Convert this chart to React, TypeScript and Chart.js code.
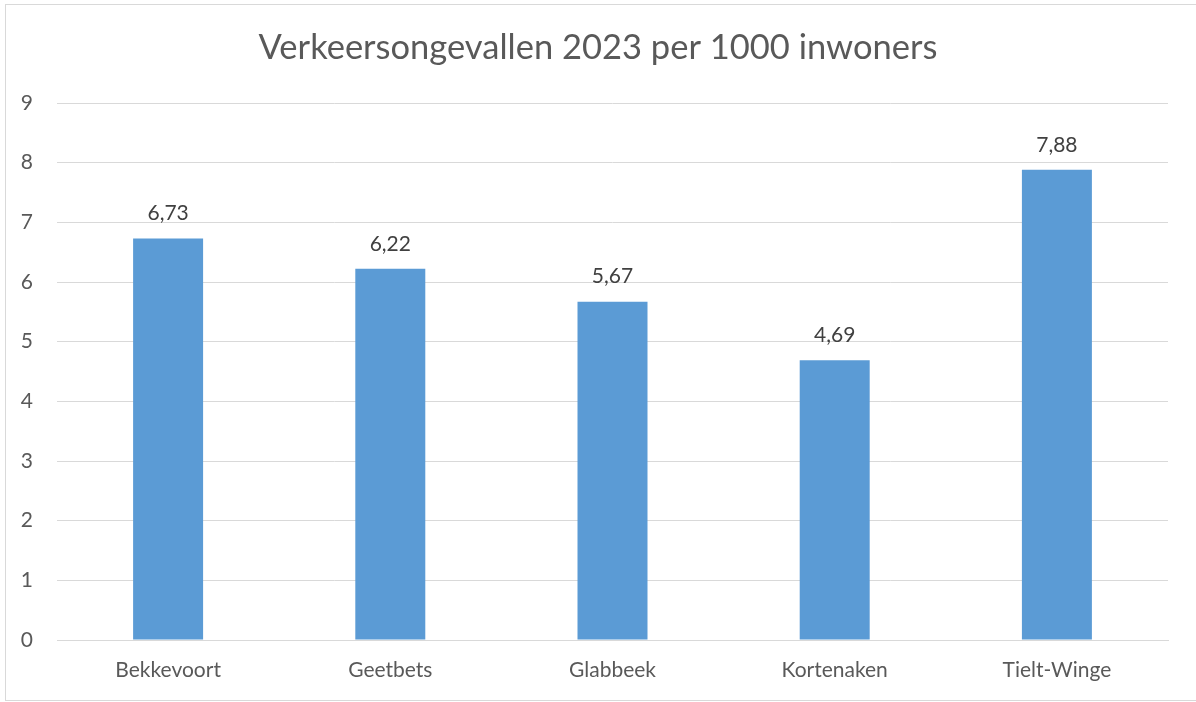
import React, { useEffect, useRef } from "react";
import { Chart, registerables } from "chart.js";

Chart.register(...registerables);

const categories = ["Bekkevoort", "Geetbets", "Glabbeek", "Kortenaken", "Tielt-Winge"];
const values = [6.73, 6.22, 5.67, 4.69, 7.88];
const titleText = "Verkeersongevallen 2023 per 1000 inwoners";
const yMin = 0;
const yMax = 9;
const yStep = 1;

const FONT = "Lato, 'Open Sans', sans-serif";
const TITLE_SIZE = 34.5;

const dataLabels = {
  id: "dataLabels",
  afterDatasetsDraw(chart: any) {
    const ctx = chart.ctx;
    const meta = chart.getDatasetMeta(0);
    ctx.save();
    ctx.font = `21px ${FONT}`;
    ctx.fillStyle = "#404040";
    ctx.textAlign = "center";
    ctx.textBaseline = "middle";
    meta.data.forEach((bar: any, i: number) => {
      const v = chart.data.datasets[0].data[i] as number;
      ctx.fillText(v.toFixed(2).replace(".", ","), bar.x, bar.y - 25);
    });
    ctx.restore();
  },
};

const centeredTitle = {
  id: "centeredTitle",
  afterDraw(chart: any) {
    const ctx = chart.ctx;
    ctx.save();
    ctx.font = `${TITLE_SIZE}px ${FONT}`;
    ctx.fillStyle = "#595959";
    ctx.textAlign = "center";
    ctx.textBaseline = "middle";
    ctx.fillText(titleText, chart.width / 2, 48);
    ctx.restore();
  },
};

export default function App() {
  const ref = useRef<HTMLCanvasElement>(null);
  useEffect(() => {
    if (!ref.current) return;
    const chart = new Chart(ref.current, {
      type: "bar",
      data: {
        labels: categories,
        datasets: [
          {
            data: values,
            backgroundColor: "#5B9BD5",
            borderWidth: 0,
            barPercentage: 0.315,
            categoryPercentage: 1,
          },
        ],
      },
      options: {
        animation: false,
        responsive: false,
        layout: { padding: { left: 0, right: 28, top: 103, bottom: 7 } },
        plugins: {
          legend: { display: false },
          tooltip: { enabled: false },
          title: { display: false },
        },
        scales: {
          x: {
            grid: { display: false, drawTicks: false },
            border: { display: true, color: "#D9D9D9", width: 1 },
            ticks: {
              color: "#595959",
              font: { family: FONT, size: 21 },
              padding: 18,
              maxRotation: 0,
            },
            afterFit(scale: any) {
              scale.height = 55;
            },
          },
          y: {
            min: yMin,
            max: yMax,
            grid: { color: "#D9D9D9", lineWidth: 1, drawTicks: false },
            border: { display: false },
            ticks: {
              stepSize: yStep,
              color: "#595959",
              font: { family: FONT, size: 21 },
              padding: 24,
            },
            afterFit(scale: any) {
              scale.width = 57;
            },
          },
        },
      },
      plugins: [dataLabels, centeredTitle],
    });
    return () => chart.destroy();
  }, []);

  return (
    <div style={{ position: "fixed", left: 0, top: 0, width: 1196, height: 702, background: "#fff" }}>
      <div
        style={{
          position: "absolute",
          left: 5,
          top: 4,
          width: 1200,
          height: 695,
          border: "1px solid #D9D9D9",
        }}
      />
      <canvas ref={ref} width={1196} height={702} style={{ position: "absolute", left: 0, top: 0 }} />
    </div>
  );
}
